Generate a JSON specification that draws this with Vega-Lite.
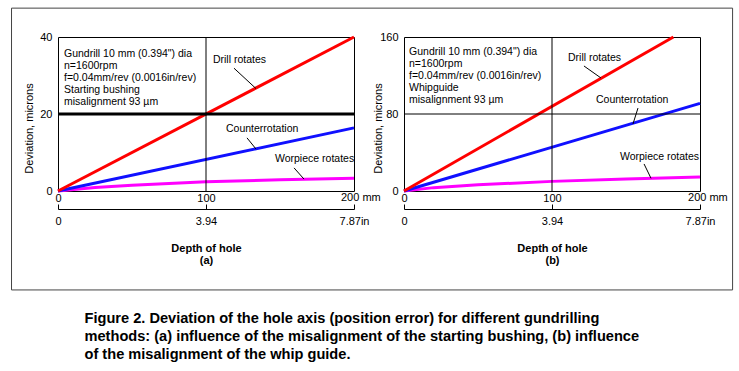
{
  "$schema": "https://vega.github.io/schema/vega-lite/v6.json",
  "padding": {"left": 10, "top": 7, "right": 0, "bottom": 0},
  "background": "white",
  "bounds": "flush",
  "spacing": 50,
  "title": {
    "text": ["Figure 2. Deviation of the hole axis (position error) for different gundrilling", "methods: (a) influence of the misalignment of the starting bushing, (b) influence", "of the misalignment of the whip guide."],
    "orient": "bottom",
    "anchor": "start",
    "font": "Liberation Sans",
    "fontSize": 14.6,
    "fontWeight": "bold",
    "lineHeight": 18,
    "color": "black",
    "offset": 20,
    "dx": 74
  },
  "config": {
    "view": {"stroke": "black", "strokeWidth": 1},
    "font": "Liberation Sans",
    "text": {"font": "Liberation Sans", "fontSize": 10.5, "color": "black"},
    "axis": {"labelFont": "Liberation Sans", "titleFont": "Liberation Sans", "labelFontSize": 11, "titleFontSize": 11, "labelColor": "black", "titleColor": "black", "titleFontWeight": "normal"}
  },
  "hconcat": [
    {
      "width": 296,
      "height": 154,
      "resolve": {"axis": {"x": "independent", "y": "independent"}},
      "layer": [
        {
          "data": {"values": [
            {"method": "Workpiece rotates", "depth": 0, "dev": 0},
            {"method": "Workpiece rotates", "depth": 25, "dev": 0.9},
            {"method": "Workpiece rotates", "depth": 50, "dev": 1.5},
            {"method": "Workpiece rotates", "depth": 100, "dev": 2.4},
            {"method": "Workpiece rotates", "depth": 150, "dev": 2.9},
            {"method": "Workpiece rotates", "depth": 200, "dev": 3.3},
            {"method": "Counterrotation", "depth": 0, "dev": 0},
            {"method": "Counterrotation", "depth": 200, "dev": 16.4},
            {"method": "Drill rotates", "depth": 0, "dev": 0},
            {"method": "Drill rotates", "depth": 200, "dev": 40}
          ]},
          "mark": {"type": "line", "strokeWidth": 3},
          "encoding": {
            "x": {"field": "depth", "type": "quantitative", "scale": {"domain": [0, 200], "nice": false},
              "axis": {"orient": "top", "offset": -172, "values": [0, 100, 200], "labelExpr": "datum.value == 200 ? '' : datum.label", "domain": true, "domainColor": "black", "ticks": true, "tickColor": "black", "tickSize": 5, "labelPadding": 1, "labelFlush": false, "labelOverlap": false, "grid": false, "title": null}},
            "y": {"field": "dev", "type": "quantitative", "scale": {"domain": [0, 40], "nice": false},
              "axis": {"orient": "left", "values": [0, 20, 40], "domain": false, "ticks": false, "grid": false, "labelPadding": 6, "labelFlush": false, "labelOverlap": false, "title": "Deviation, microns", "titleX": -24, "titleY": 91, "titleAngle": 270, "titleBaseline": "bottom", "titleAlign": "center"}},
            "color": {"field": "method", "type": "nominal", "scale": {"domain": ["Drill rotates", "Counterrotation", "Workpiece rotates"], "range": ["#ff0000", "#1010ff", "#ff00ff"]}, "legend": null},
            "order": {"field": "depth", "type": "quantitative"}
          }
        },
        {
          "data": {"values": [
            {"x": -31.4, "x2": 455.8, "y": 47.5, "y2": 47.5},
            {"x": -31.4, "x2": 455.8, "y": -25.7, "y2": -25.7},
            {"x": -31.4, "x2": -31.4, "y": -25.7, "y2": 47.5},
            {"x": 455.8, "x2": 455.8, "y": -25.7, "y2": 47.5}
          ]},
          "mark": {"type": "rule", "color": "#444", "strokeWidth": 1, "clip": false},
          "encoding": {
            "x": {"field": "x", "type": "quantitative", "scale": {"domain": [0, 200], "nice": false}, "axis": null},
            "x2": {"field": "x2"},
            "y": {"field": "y", "type": "quantitative", "scale": {"domain": [0, 40], "nice": false}, "axis": null},
            "y2": {"field": "y2"}
          }
        },
        {
          "data": {"values": [{"x": 100, "x2": 100, "y": 0, "y2": 40}]},
          "mark": {"type": "rule", "color": "black", "strokeWidth": 1},
          "encoding": {
            "x": {"field": "x", "type": "quantitative", "scale": {"domain": [0, 200], "nice": false},
              "axis": {"orient": "bottom", "offset": 18, "values": [0, 100, 200], "labelExpr": "datum.value == 0 ? '0' : datum.value == 100 ? '3.94' : '7.87in'", "domain": false, "ticks": false, "labelPadding": 6, "labelFlush": false, "labelOverlap": false, "grid": false, "title": ["Depth of hole", "(a)"], "titleFontWeight": "bold", "titleLineHeight": 12, "titlePadding": 16}},
            "x2": {"field": "x2"},
            "y": {"field": "y", "type": "quantitative", "scale": {"domain": [0, 40], "nice": false}, "axis": null},
            "y2": {"field": "y2"}
          }
        },
        {
          "data": {"values": [{"x": 0, "x2": 200, "y": 20, "y2": 20}]},
          "mark": {"type": "rule", "color": "black", "strokeWidth": 3},
          "encoding": {
            "x": {"field": "x", "type": "quantitative", "scale": {"domain": [0, 200], "nice": false}, "axis": null},
            "x2": {"field": "x2"},
            "y": {"field": "y", "type": "quantitative", "scale": {"domain": [0, 40], "nice": false}, "axis": null},
            "y2": {"field": "y2"}
          }
        },
        {
          "data": {"values": [
            {"x": 118.9, "y": 31.9, "x2": 133.8, "y2": 26.6},
            {"x": 127.7, "y": 13.8, "x2": 133.8, "y2": 10.9},
            {"x": 159.5, "y": 6.0, "x2": 166.2, "y2": 3.1}
          ]},
          "mark": {"type": "rule", "color": "black", "strokeWidth": 1},
          "encoding": {
            "x": {"field": "x", "type": "quantitative", "scale": {"domain": [0, 200], "nice": false}, "axis": null},
            "x2": {"field": "x2"},
            "y": {"field": "y", "type": "quantitative", "scale": {"domain": [0, 40], "nice": false}, "axis": null},
            "y2": {"field": "y2"}
          }
        },
        {
          "data": {"values": [
            {"x": 104.7, "y": 34.0, "label": "Drill rotates"},
            {"x": 113.5, "y": 16.1, "label": "Counterrotation"},
            {"x": 146.6, "y": 8.3, "label": "Worpiece rotates"}
          ]},
          "mark": {"type": "text", "align": "left", "baseline": "middle"},
          "encoding": {
            "x": {"field": "x", "type": "quantitative", "scale": {"domain": [0, 200], "nice": false}, "axis": null},
            "y": {"field": "y", "type": "quantitative", "scale": {"domain": [0, 40], "nice": false}, "axis": null},
            "text": {"field": "label"}
          }
        },
        {
          "data": {"values": [{"x": 191.2, "y": -3.1, "label": "200 mm"}]},
          "mark": {"type": "text", "align": "left", "baseline": "bottom", "fontSize": 11, "clip": false},
          "encoding": {
            "x": {"field": "x", "type": "quantitative", "scale": {"domain": [0, 200], "nice": false}, "axis": null},
            "y": {"field": "y", "type": "quantitative", "scale": {"domain": [0, 40], "nice": false}, "axis": null},
            "text": {"field": "label"}
          }
        },
        {
          "data": {"values": [
            {"x": 4.05, "y": 37.0, "label": "Gundrill 10 mm (0.394\") dia\n\u00a0n=1600rpm\nf=0.04mm/rev (0.0016in/rev)\nStarting bushing\n\u00a0misalignment 93 \u00b5m"}
          ]},
          "mark": {"type": "text", "align": "left", "baseline": "top", "lineHeight": 12, "lineBreak": "\n"},
          "encoding": {
            "x": {"field": "x", "type": "quantitative", "scale": {"domain": [0, 200], "nice": false}, "axis": null},
            "y": {"field": "y", "type": "quantitative", "scale": {"domain": [0, 40], "nice": false}, "axis": null},
            "text": {"field": "label"}
          }
        }
      ]
    },
    {
      "width": 296,
      "height": 154,
      "resolve": {"axis": {"x": "independent", "y": "independent"}},
      "layer": [
        {
          "data": {"values": [
            {"method": "Workpiece rotates", "depth": 0, "dev": 0},
            {"method": "Workpiece rotates", "depth": 20, "dev": 3.5},
            {"method": "Workpiece rotates", "depth": 50, "dev": 6.5},
            {"method": "Workpiece rotates", "depth": 100, "dev": 10},
            {"method": "Workpiece rotates", "depth": 150, "dev": 12.5},
            {"method": "Workpiece rotates", "depth": 200, "dev": 14.5},
            {"method": "Counterrotation", "depth": 0, "dev": 0},
            {"method": "Counterrotation", "depth": 200, "dev": 91},
            {"method": "Drill rotates", "depth": 0, "dev": 0},
            {"method": "Drill rotates", "depth": 182, "dev": 160}
          ]},
          "mark": {"type": "line", "strokeWidth": 3},
          "encoding": {
            "x": {"field": "depth", "type": "quantitative", "scale": {"domain": [0, 200], "nice": false},
              "axis": {"orient": "top", "offset": -172, "values": [0, 100, 200], "labelExpr": "datum.value == 200 ? '' : datum.label", "domain": true, "domainColor": "black", "ticks": true, "tickColor": "black", "tickSize": 5, "labelPadding": 1, "labelFlush": false, "labelOverlap": false, "grid": false, "title": null}},
            "y": {"field": "dev", "type": "quantitative", "scale": {"domain": [0, 160], "nice": false},
              "axis": {"orient": "left", "values": [0, 80, 160], "domain": false, "ticks": false, "grid": false, "labelPadding": 6, "labelFlush": false, "labelOverlap": false, "title": "Deviation, microns", "titleX": -21, "titleY": 91, "titleAngle": 270, "titleBaseline": "bottom", "titleAlign": "center"}},
            "color": {"field": "method", "type": "nominal", "scale": {"domain": ["Drill rotates", "Counterrotation", "Workpiece rotates"], "range": ["#ff0000", "#1010ff", "#ff00ff"]}, "legend": null},
            "order": {"field": "depth", "type": "quantitative"}
          }
        },
        {
          "data": {"values": [
            {"x": 100, "x2": 100, "y": 0, "y2": 160},
            {"x": 0, "x2": 200, "y": 80, "y2": 80}
          ]},
          "mark": {"type": "rule", "color": "black", "strokeWidth": 1},
          "encoding": {
            "x": {"field": "x", "type": "quantitative", "scale": {"domain": [0, 200], "nice": false},
              "axis": {"orient": "bottom", "offset": 18, "values": [0, 100, 200], "labelExpr": "datum.value == 0 ? '0' : datum.value == 100 ? '3.94' : '7.87in'", "domain": false, "ticks": false, "labelPadding": 6, "labelFlush": false, "labelOverlap": false, "grid": false, "title": ["Depth of hole", "(b)"], "titleFontWeight": "bold", "titleLineHeight": 12, "titlePadding": 16}},
            "x2": {"field": "x2"},
            "y": {"field": "y", "type": "quantitative", "scale": {"domain": [0, 160], "nice": false}, "axis": null},
            "y2": {"field": "y2"}
          }
        },
        {
          "data": {"values": [
            {"x": 121.6, "y": 129.9, "x2": 133.1, "y2": 117.4},
            {"x": 158.1, "y": 86.2, "x2": 154.7, "y2": 69.6},
            {"x": 162.2, "y": 28.1, "x2": 166.9, "y2": 13.2}
          ]},
          "mark": {"type": "rule", "color": "black", "strokeWidth": 1},
          "encoding": {
            "x": {"field": "x", "type": "quantitative", "scale": {"domain": [0, 200], "nice": false}, "axis": null},
            "x2": {"field": "x2"},
            "y": {"field": "y", "type": "quantitative", "scale": {"domain": [0, 160], "nice": false}, "axis": null},
            "y2": {"field": "y2"}
          }
        },
        {
          "data": {"values": [
            {"x": 110.8, "y": 138.2, "label": "Drill rotates"},
            {"x": 129.7, "y": 94.5, "label": "Counterrotation"},
            {"x": 145.9, "y": 35.3, "label": "Worpiece rotates"}
          ]},
          "mark": {"type": "text", "align": "left", "baseline": "middle"},
          "encoding": {
            "x": {"field": "x", "type": "quantitative", "scale": {"domain": [0, 200], "nice": false}, "axis": null},
            "y": {"field": "y", "type": "quantitative", "scale": {"domain": [0, 160], "nice": false}, "axis": null},
            "text": {"field": "label"}
          }
        },
        {
          "data": {"values": [{"x": 191.9, "y": -12.5, "label": "200 mm"}]},
          "mark": {"type": "text", "align": "left", "baseline": "bottom", "fontSize": 11, "clip": false},
          "encoding": {
            "x": {"field": "x", "type": "quantitative", "scale": {"domain": [0, 200], "nice": false}, "axis": null},
            "y": {"field": "y", "type": "quantitative", "scale": {"domain": [0, 160], "nice": false}, "axis": null},
            "text": {"field": "label"}
          }
        },
        {
          "data": {"values": [
            {"x": 3.4, "y": 150.0, "label": "Gundrill 10 mm (0.394\") dia\n\u00a0n=1600rpm\nf=0.04mm/rev (0.0016in/rev)\nWhipguide\nmisalignment 93 \u00b5m"}
          ]},
          "mark": {"type": "text", "align": "left", "baseline": "top", "lineHeight": 12, "lineBreak": "\n"},
          "encoding": {
            "x": {"field": "x", "type": "quantitative", "scale": {"domain": [0, 200], "nice": false}, "axis": null},
            "y": {"field": "y", "type": "quantitative", "scale": {"domain": [0, 160], "nice": false}, "axis": null},
            "text": {"field": "label"}
          }
        }
      ]
    }
  ]
}
